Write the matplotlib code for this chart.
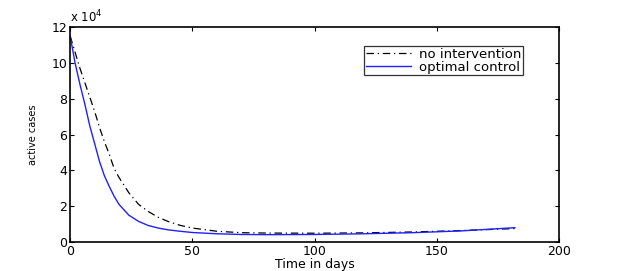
import matplotlib
matplotlib.use("Agg")
import matplotlib.pyplot as plt

# time in days, active cases in units of 1e4
days = [0, 2, 4, 6, 8, 10, 12, 14, 16, 18, 20, 24, 28, 32, 36, 40, 45, 50, 60, 70, 80, 100, 120, 140, 160, 182]
no_intervention = [11.5, 10.6, 9.7, 8.9, 8.1, 7.3, 6.4, 5.6, 4.9, 4.1, 3.6, 2.75, 2.1, 1.7, 1.38, 1.15, 0.93,
                   0.78, 0.6, 0.52, 0.5, 0.49, 0.51, 0.56, 0.64, 0.75]
optimal_control = [11.5, 10.0, 8.8, 7.7, 6.5, 5.5, 4.5, 3.7, 3.1, 2.55, 2.1, 1.5, 1.15, 0.92, 0.78, 0.68, 0.6,
                   0.53, 0.46, 0.42, 0.41, 0.42, 0.46, 0.52, 0.62, 0.8]

plt.rcParams["font.family"] = ["DejaVu Sans"]

fig = plt.figure(figsize=(6.21, 2.71), dpi=100)
ax = fig.add_axes([0.113, 0.107, 0.787, 0.793])

ax.plot(days, no_intervention, color="black", linestyle=(0, (6, 3, 1, 3)), lw=0.9, label="no intervention")
ax.plot(days, optimal_control, color="#2020ff", linestyle="-", lw=1.0, label="optimal control")

ax.set_xlim(0, 200)
ax.set_ylim(0, 12)
ax.set_xticks([0, 50, 100, 150, 200])
ax.set_yticks([0, 2, 4, 6, 8, 10, 12])
ax.tick_params(direction="in", top=True, right=True, labelsize=9, length=3, width=0.8, pad=2)
for s in ax.spines.values():
    s.set_linewidth(1.2)

ax.set_xlabel("Time in days", fontsize=9, labelpad=0)
ax.set_ylabel("active cases", fontsize=7, labelpad=10)
ax.text(0.0, 1.01, r"x 10$^4$", transform=ax.transAxes, fontsize=8.5, va="bottom", ha="left")

leg = ax.legend(loc="upper right", bbox_to_anchor=(0.926, 0.912), fontsize=9.5, frameon=True, fancybox=False,
                edgecolor="black", handlelength=3.4, borderpad=0.12, labelspacing=0.0, handletextpad=0.6,
                borderaxespad=0)
leg.get_frame().set_linewidth(0.9)

fig.savefig("out.png", dpi=100)
